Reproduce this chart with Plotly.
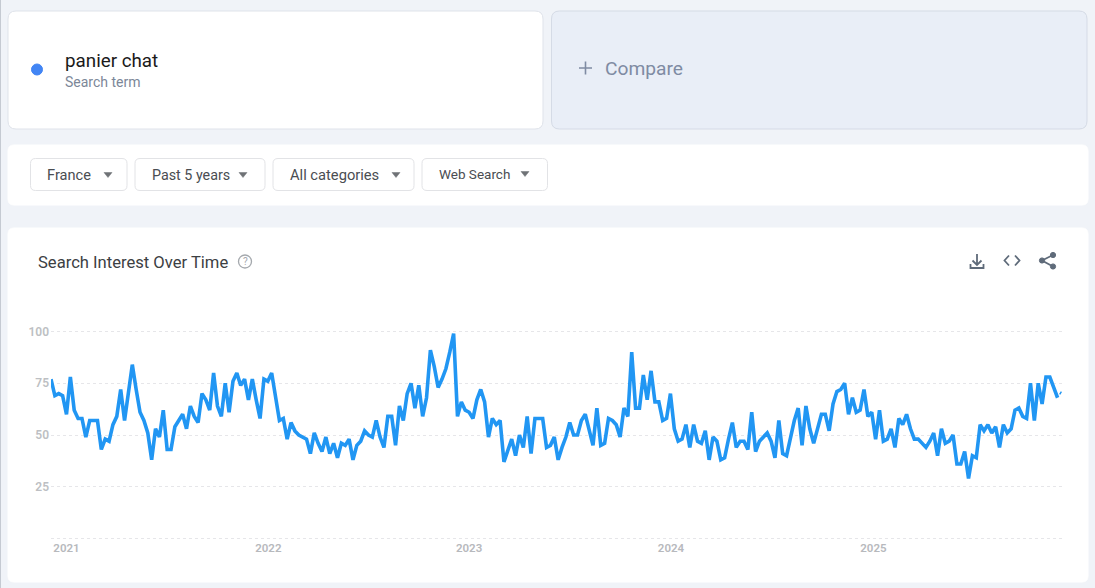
import pandas as pd
import plotly.graph_objects as go

W, H = 1095, 588

# weekly search interest
values = [
    77, 69, 70, 69, 60, 78, 62, 58, 58, 49, 57, 57, 57, 43, 48, 47, 55, 59, 72, 57,
    70, 84, 72, 61, 57, 51, 38, 53, 49, 62, 43, 43, 54, 57, 60, 53, 64, 59, 56, 70,
    67, 62, 80, 64, 59, 75, 61, 76, 80, 74, 77, 67, 77, 67, 58, 77, 76, 80, 68, 57,
    58, 48, 56, 52, 50, 49, 48, 41, 51, 46, 42, 49, 41, 46, 39, 46, 45, 48, 38, 45,
    47, 52, 50, 49, 57, 49, 44, 59, 59, 45, 64, 57, 70, 75, 63, 74, 59, 68, 91, 83,
    73, 77, 82, 90, 99, 59, 66, 62, 61, 58, 67, 72, 66, 49, 58, 55, 57, 37, 43, 48,
    40, 50, 44, 59, 41, 58, 58, 58, 44, 45, 49, 38, 44, 49, 56, 50, 50, 57, 60, 53,
    45, 63, 45, 46, 58, 57, 55, 49, 63, 59, 90, 63, 63, 79, 67, 81, 66, 66, 57, 58,
    70, 53, 47, 48, 55, 44, 55, 47, 46, 52, 38, 49, 47, 38, 39, 48, 56, 44, 47, 47,
    43, 61, 42, 47, 49, 51, 47, 39, 57, 41, 40, 49, 57, 63, 45, 64, 53, 46, 53, 60,
    60, 52, 65, 71, 72, 75, 60, 68, 61, 62, 72, 59, 61, 48, 62, 47, 48, 53, 44, 58,
    55, 60, 53, 48, 48, 46, 44, 47, 51, 40, 53, 46, 47, 50, 36, 36, 42, 29, 40, 39,
    55, 52, 55, 51, 54, 44, 55, 51, 53, 62, 63, 59, 58, 75, 57, 75, 65, 78, 78, 73,
    68,
]
partial_value = 71
first_week = "2020-12-06"
y_ticks = [0, 25, 50, 75, 100]
y_labels = ["", "25", "50", "75", "100"]
year_ticks = ["2021-01-03", "2022-01-03", "2023-01-01", "2024-01-01", "2025-01-01"]

weeks = pd.date_range(first_week, periods=len(values) + 1, freq="7D")
x_end = weeks[-1] + pd.Timedelta(days=1)


def px(x):
    return x / W


def py(y):
    return 1 - y / H


def rounded(x0, y0, x1, y1, r, fill, line=None):
    a, b, c, d = px(x0), py(y0), px(x1), py(y1)
    rx, ry = r / W, r / H
    path = (f"M{a + rx},{b} L{c - rx},{b} Q{c},{b} {c},{b - ry} L{c},{d + ry} Q{c},{d} {c - rx},{d} "
            f"L{a + rx},{d} Q{a},{d} {a},{d + ry} L{a},{b - ry} Q{a},{b} {a + rx},{b} Z")
    return dict(type="path", path=path, xref="paper", yref="paper", layer="below", fillcolor=fill,
                line=dict(color=line or fill, width=1))


def icon(points, color="#5f6b7a", width=1.8, fill=None):
    path = ""
    for seg in points:
        path += "M" + " L".join(f"{px(a)},{py(b)}" for a, b in seg) + " "
    return dict(type="path", path=path, xref="paper", yref="paper", layer="above",
                fillcolor=fill or "rgba(0,0,0,0)", line=dict(color=color, width=width))


def circle(cx, cy, r, fill, line=None, width=1):
    return dict(type="circle", xref="paper", yref="paper", x0=px(cx - r), x1=px(cx + r),
                y0=py(cy + r), y1=py(cy - r), fillcolor=fill, layer="above",
                line=dict(color=line or fill, width=width))


def label(x, y, text, size, color, font="Roboto"):
    return dict(x=px(x), y=py(y), xref="paper", yref="paper", text=text, showarrow=False,
                xanchor="left", yanchor="middle", borderpad=0,
                font=dict(family=font, size=size, color=color))


def arrow(cx, cy):
    return icon([[(cx - 4, cy - 2.5), (cx + 4, cy - 2.5), (cx, cy + 2.5), (cx - 4, cy - 2.5)]],
                color="#6f7276", width=0.5, fill="#6f7276")


shapes = [
    dict(type="rect", xref="paper", yref="paper", x0=0, x1=px(1), y0=0, y1=1, layer="below",
         fillcolor="#c5cad2", line=dict(width=0)),
    rounded(8, 11, 543, 129, 8, "#ffffff", "#dfe3ea"),
    rounded(551.5, 11, 1087, 129, 8, "#e9eef7", "#d5dbe6"),
    rounded(8, 145, 1088, 205, 6, "#ffffff"),
    rounded(30.5, 158.5, 127, 190.5, 5, "#ffffff", "#e2e3e6"),
    rounded(135, 158.5, 265, 190.5, 5, "#ffffff", "#e2e3e6"),
    rounded(273, 158.5, 414, 190.5, 5, "#ffffff", "#e2e3e6"),
    rounded(422, 158.5, 547.5, 190.5, 5, "#ffffff", "#e2e3e6"),
    rounded(8, 228, 1088, 582, 6, "#ffffff"),
    circle(37, 69.5, 5.5, "#4285f4"),
    arrow(108, 175), arrow(243, 175), arrow(396, 175), arrow(525, 174),
    circle(245, 261.5, 6.5, "rgba(0,0,0,0)", "#a4a8ad", 1.3),
    # plus of Compare
    icon([[(579, 68), (592, 68)], [(585.5, 61.5), (585.5, 74.5)]], color="#7f8ba3", width=1.6),
    # download
    icon([[(977, 254), (977, 265)], [(972.5, 260.5), (977, 265), (981.5, 260.5)],
          [(970.5, 264), (970.5, 268), (983.5, 268), (983.5, 264)]]),
    # embed
    icon([[(1009, 255.5), (1004.5, 260.5), (1009, 265.5)], [(1015, 255.5), (1019.5, 260.5), (1015, 265.5)]]),
    # share
    icon([[(1053, 255), (1042, 260.5), (1053, 266.5)]]),
    circle(1053, 255, 2.6, "#5f6b7a"), circle(1042, 260.5, 2.6, "#5f6b7a"), circle(1053, 266.5, 2.6, "#5f6b7a"),
]

annotations = [
    label(63.5, 60.5, "panier chat", 18.8, "#1a1a1a"),
    label(63.5, 82, "Search term", 14, "#7c8798"),
    label(603.5, 68.5, "Compare", 19.2, "#7f8ba3"),
    label(45.5, 175, "France", 14.6, "#4a4d52"),
    label(151.5, 175, "Past 5 years", 14.3, "#4a4d52"),
    label(288.5, 175, "All categories", 14.7, "#4a4d52"),
    label(437.5, 174, "Web Search", 13.5, "#4a4d52"),
    label(36.5, 262.5, "Search Interest Over Time", 16.6, "#3c4043"),
    label(242, 261.5, "?", 10, "#a4a8ad"),
]

fig = go.Figure()
fig.add_trace(go.Scatter(x=weeks[:-1], y=values, mode="lines", showlegend=False,
                         line=dict(color="#2196f3", width=3.6)))
fig.add_trace(go.Scatter(x=weeks[-2:], y=[values[-1], partial_value], mode="lines", showlegend=False,
                         line=dict(color="#2196f3", width=1.5, dash="0px,4px,4px,4px")))

fig.update_layout(
    width=W,
    height=H,
    margin=dict(l=0, r=0, t=0, b=0, pad=0, autoexpand=False),
    paper_bgcolor="#f0f3f8",
    plot_bgcolor="rgba(0,0,0,0)",
    shapes=shapes,
    annotations=annotations,
    xaxis=dict(
        domain=[px(51), px(1062)],
        range=[weeks[0], x_end],
        tickvals=year_ticks,
        tickformat="%Y",
        showgrid=False,
        zeroline=False,
        showline=False,
        ticks="",
        tickfont=dict(family="Roboto", size=11.5, color="#b7b9bd", weight=600),
    ),
    yaxis=dict(
        domain=[py(539.5), py(330.5)],
        range=[-0.5, 100.5],
        tickvals=y_ticks,
        ticktext=y_labels,
        showgrid=True,
        gridcolor="#e6e6e9",
        griddash="dot",
        gridwidth=1,
        zeroline=False,
        showline=False,
        ticks="",
        ticklabelstandoff=1,
        tickfont=dict(family="Roboto", size=12, color="#bdbfc3", weight=600),
    ),
)

fig.write_html("out.html", config=dict(displayModeBar=False),
               post_script="document.body.style.margin='0';")
